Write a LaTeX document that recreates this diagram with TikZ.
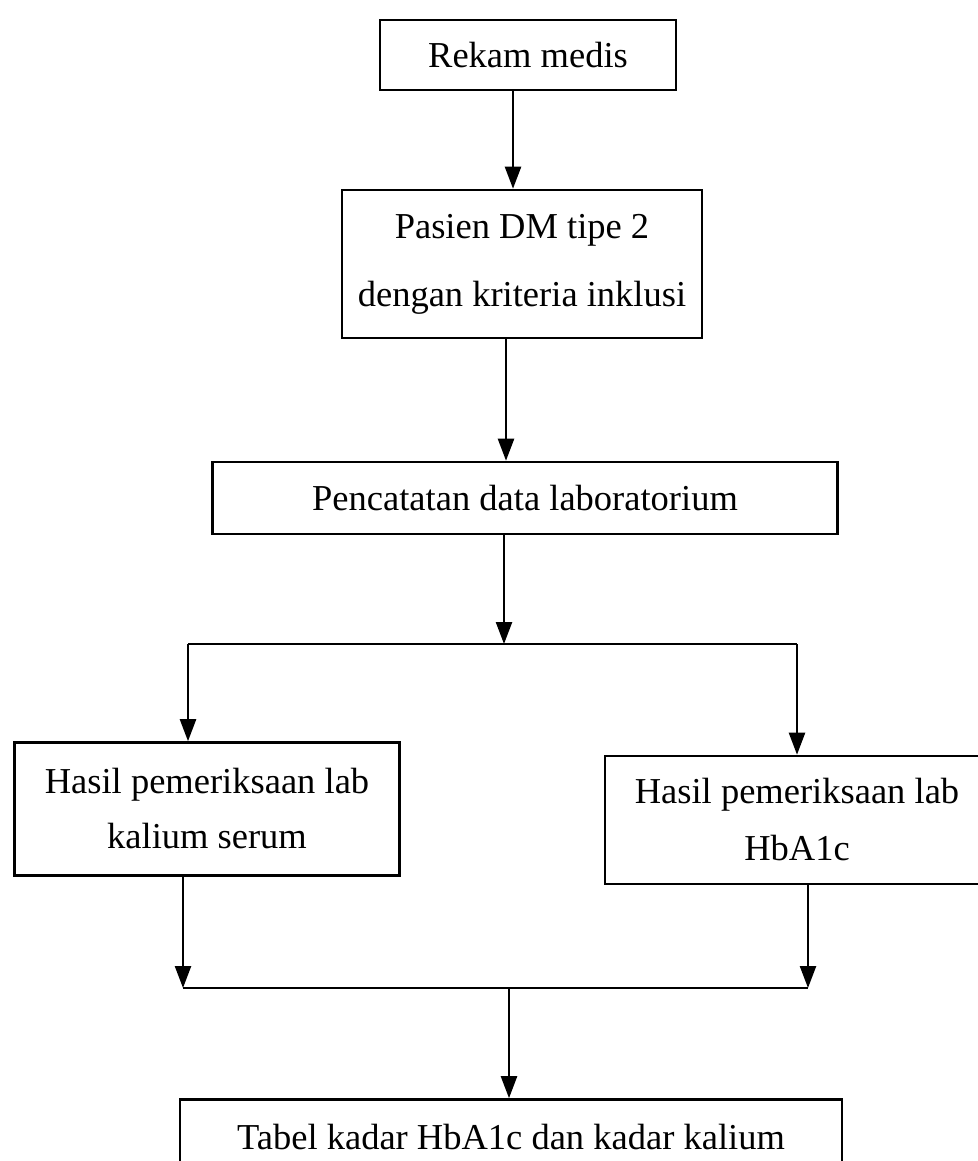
\documentclass[tikz,border=0pt]{standalone}
\usepackage{fontspec}
\setmainfont{Liberation Serif}
\usetikzlibrary{arrows.meta}
\begin{document}
\begin{tikzpicture}[x=1pt,y=-1pt,
  box/.style={draw, line width=2.6pt, inner sep=0pt, align=center, font=\fontsize{36.5}{44}\selectfont},
  arr/.style={line width=2.4pt, -{Triangle[length=22pt,width=16pt]}},
  ln/.style={line width=2.4pt}]
\useasboundingbox (0,0) rectangle (977,1161);
% boxes
\node[box, minimum width=296pt, minimum height=70pt] (b1) at (528,55) {Rekam medis};
\node[box, minimum width=360pt, minimum height=148pt, font=\fontsize{36.5}{68}\selectfont] (b2) at (522,264) {Pasien DM tipe 2\\dengan kriteria inklusi};
\node[box, minimum width=625pt, minimum height=72pt] (b3) at (525,498) {Pencatatan data laboratorium};
\node[box, minimum width=385pt, minimum height=133pt, font=\fontsize{36.5}{55}\selectfont] (b4) at (207,809) {Hasil pemeriksaan lab\\kalium serum};
\node[box, minimum width=384pt, minimum height=128pt, font=\fontsize{36.5}{57}\selectfont] (b5) at (797,820) {Hasil pemeriksaan lab\\HbA1c};
\node[box, minimum width=662pt, minimum height=75pt] (b6) at (511,1137) {Tabel kadar HbA1c dan kadar kalium};
% helper coordinates
\coordinate (c1) at (513,0);
\coordinate (c2) at (506,0);
\coordinate (j1) at (504,644);
\coordinate (jl) at (188,644);
\coordinate (jr) at (797,644);
\coordinate (kl) at (183,988);
\coordinate (kr) at (808,988);
\coordinate (km) at (509,988);
% connectors
\draw[arr] (b1.south -| c1) -- (b2.north -| c1);
\draw[arr] (b2.south -| c2) -- (b3.north -| c2);
\draw[arr] (b3.south -| j1) -- (j1);
\draw[ln] (jl) -- (jr);
\draw[arr] (jl) -- (b4.north -| jl);
\draw[arr] (jr) -- (b5.north -| jr);
\draw[arr] (b4.south -| kl) -- (kl);
\draw[arr] (b5.south -| kr) -- (kr);
\draw[ln] (kl) -- (kr);
\draw[arr] (km) -- (b6.north -| km);
\end{tikzpicture}
\end{document}
